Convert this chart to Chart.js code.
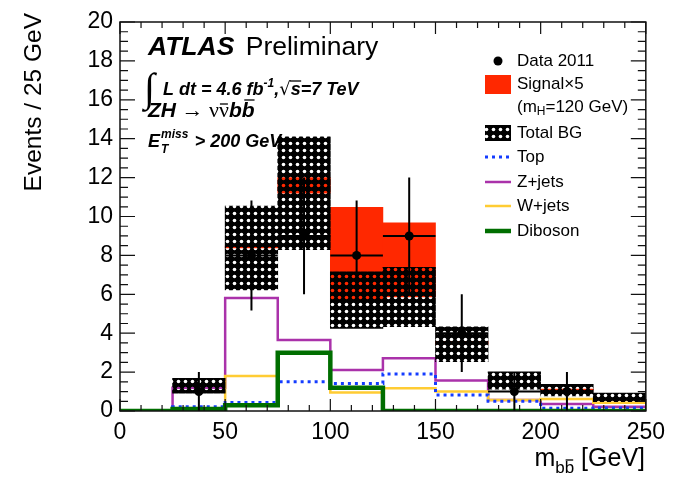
<!DOCTYPE html>
<html>
<head>
<meta charset="utf-8">
<script src="https://cdn.jsdelivr.net/npm/chart.js@4.4.0/dist/chart.umd.min.js"></script>
<style>
  html, body { margin: 0; padding: 0; background: #fff; }
  #mbb { display: block; }
</style>
</head>
<body>
<canvas id="mbb" width="673" height="489"></canvas>
<script>
// m_bb distribution, 25 GeV bins from 0 to 250 GeV
const binEdges = [0, 25, 50, 75, 100, 125, 150, 175, 200, 225, 250];
const dataCounts = [0, 1, 8, 9, 8, 9, 4, 1, 1, 0];
const totalBG = [0, 1.3, 8.38, 11.2, 5.7, 5.86, 3.43, 1.57, 1.07, 0.7];
const totalBGErr = [0, 0.38, 2.16, 2.9, 1.45, 1.53, 0.9, 0.45, 0.3, 0.22];
const signalX5 = [0, 0, 0.1, 0.8, 4.77, 3.82, 0.15, 0, 0.06, 0];
const zJets = [0, 1.2, 5.81, 3.65, 2.11, 2.71, 1.57, 0.57, 0.36, 0.22];
const wJets = [0, 0.05, 1.8, 3.0, 0.95, 1.17, 1.0, 0.57, 0.62, 0.43];
const topBG = [0, 0.22, 0.44, 1.51, 1.42, 1.9, 0.82, 0.5, 0.14, 0.16];
const diboson = [0, 0.1, 0.3, 3.0, 1.2, 0, 0, 0, 0, 0];
const xTickLabels = [0, 50, 100, 150, 200, 250];
const yTickLabels = [0, 2, 4, 6, 8, 10, 12, 14, 16, 18, 20];

const SANS = "'Liberation Sans', Arial, Helvetica, sans-serif";
const SERIF = "'Liberation Serif', 'DejaVu Serif', serif";

const binCenters = binEdges.slice(0, -1).map((e, i) => (e + binEdges[i + 1]) / 2);

// step outline: one point per left edge, plus the closing right edge
function stepPoints(values) {
  const pts = values.map((v, i) => ({ x: binEdges[i], y: v }));
  pts.push({ x: binEdges[binEdges.length - 1], y: values[values.length - 1] });
  return pts;
}

// black fill with transparent round holes, like the ROOT dotted fill style
function dotPattern(ctx) {
  const tile = document.createElement('canvas');
  tile.width = 7; tile.height = 7;
  const t = tile.getContext('2d');
  t.fillStyle = '#000';
  t.fillRect(0, 0, 7, 7);
  t.globalCompositeOperation = 'destination-out';
  t.beginPath();
  t.arc(3.5, 3.5, 1.8, 0, Math.PI * 2);
  t.fill();
  return ctx.createPattern(tile, 'repeat');
}

const canvas = document.getElementById('mbb');
const ctx = canvas.getContext('2d');
const hatch = dotPattern(ctx);
const signalRed = 'rgb(255,40,0)';

const colours = {
  z: 'rgb(170,50,170)',
  w: 'rgb(255,204,51)',
  top: 'rgb(20,60,255)',
  dib: 'rgb(0,110,0)'
};

// sqrt(N) error bars for the data, drawn just before the markers
const errorBars = {
  id: 'errorBars',
  beforeDatasetDraw(chart, args) {
    if (chart.data.datasets[args.index].label !== 'Data 2011') return;
    const c = chart.ctx, x = chart.scales.x, y = chart.scales.y;
    c.save();
    c.strokeStyle = '#000';
    c.lineWidth = 2;
    dataCounts.forEach((n, i) => {
      if (n <= 0) return;
      const err = Math.sqrt(n);
      const px = x.getPixelForValue(binCenters[i]);
      const py = y.getPixelForValue(n);
      c.beginPath();
      c.moveTo(px, y.getPixelForValue(Math.max(n - err, 0)));
      c.lineTo(px, y.getPixelForValue(n + err));
      c.moveTo(x.getPixelForValue(binEdges[i]), py);
      c.lineTo(x.getPixelForValue(binEdges[i + 1]), py);
      c.stroke();
    });
    c.restore();
  }
};

// draw a list of text pieces one after the other
function runs(c, x, y, parts) {
  parts.forEach(p => {
    c.font = p.font;
    const w = c.measureText(p.t).width;
    if (p.draw !== false) c.fillText(p.t, x + (p.dx || 0), y + (p.dy || 0));
    if (p.bar) {
      c.save();
      c.lineWidth = 1.3;
      c.beginPath();
      c.moveTo(x + (p.dx || 0) + p.bar[0] * w, y + (p.dy || 0) + p.bar[2]);
      c.lineTo(x + (p.dx || 0) + p.bar[1] * w, y + (p.dy || 0) + p.bar[2]);
      c.stroke();
      c.restore();
    }
    if (!p.stay) x += w + (p.dx || 0);
  });
  return x;
}

function runsWidth(c, parts) {
  let w = 0;
  parts.forEach(p => { c.font = p.font; if (!p.stay) w += c.measureText(p.t).width + (p.dx || 0); });
  return w;
}

// frame, tick marks, axis titles, labels and legend
const decorations = {
  id: 'decorations',
  afterDraw(chart) {
    const c = chart.ctx, x = chart.scales.x, y = chart.scales.y;
    const a = chart.chartArea;
    c.save();

    // frame
    c.strokeStyle = '#111';
    c.lineWidth = 1.5;
    c.strokeRect(a.left, a.top, a.right - a.left, a.bottom - a.top);

    // x ticks on bottom and top
    c.lineWidth = 1.2;
    c.beginPath();
    for (let v = 0; v <= 250; v += 10) {
      const px = x.getPixelForValue(v);
      const len = v % 50 === 0 ? 12 : 6;
      c.moveTo(px, a.bottom); c.lineTo(px, a.bottom - len);
      c.moveTo(px, a.top); c.lineTo(px, a.top + len);
    }
    // y ticks on left and right
    for (let v = 0; v <= 20; v += 0.5) {
      const py = y.getPixelForValue(v);
      const len = v % 2 === 0 ? 15 : 8;
      c.moveTo(a.left, py); c.lineTo(a.left + len, py);
      c.moveTo(a.right, py); c.lineTo(a.right - len, py);
    }
    c.stroke();

    c.fillStyle = '#000';
    c.strokeStyle = '#000';
    c.textBaseline = 'alphabetic';
    c.textAlign = 'left';

    // y axis title, aligned to the top end of the axis
    c.save();
    c.translate(41, 13);
    c.rotate(-Math.PI / 2);
    c.textAlign = 'right';
    c.font = '24.5px ' + SANS;
    c.fillText('Events / 25 GeV', 0, 0);
    c.restore();

    // x axis title, aligned to the right end of the axis
    const xt = [
      { t: 'm', font: '25px ' + SANS },
      { t: 'b', font: '17px ' + SANS, dy: 7 },
      { t: 'b', font: '17px ' + SANS, dy: 7, bar: [0.1, 0.9, -13] },
      { t: ' [GeV]', font: '25px ' + SANS }
    ];
    runs(c, 645 - runsWidth(c, xt), 466, xt);

    // experiment label
    const bi = sz => 'italic bold ' + sz + 'px ' + SANS;
    runs(c, 148, 55, [
      { t: 'ATLAS', font: bi(26.5) },
      { t: ' Preliminary', font: '26.5px ' + SANS, dx: 4 }
    ]);
    c.font = '40px ' + SERIF;
    c.fillText('\u222B', 144, 101);
    runs(c, 163, 95, [
      { t: 'L dt = 4.6 fb', font: bi(18) },
      { t: '-1', font: bi(12), dy: -8 },
      { t: ',', font: bi(18) },
      { t: '\u221A', font: '18px ' + 'DejaVu Sans' },
      { t: 's', font: bi(18), bar: [-0.1, 1.05, -14] },
      { t: '=7 TeV', font: bi(18) }
    ]);
    runs(c, 148, 117, [
      { t: 'ZH', font: bi(21) },
      { t: ' \u2192 ', font: '22px ' + SERIF },
      { t: '\u03BD', font: '22px ' + SERIF },
      { t: '\u03BD', font: '22px ' + SERIF, bar: [0.1, 0.9, -13] },
      { t: 'b', font: bi(21) },
      { t: 'b', font: bi(21), bar: [0.2, 1.0, -17] }
    ]);
    runs(c, 148, 147, [
      { t: 'E', font: bi(18) },
      { t: 'miss', font: bi(12), dy: -9, dx: 1, stay: true },
      { t: 'T', font: bi(12), dy: 6, dx: 1 },
      { t: 'miss', font: bi(12), draw: false, dx: -6 },
      { t: ' > 200 GeV', font: bi(18) }
    ]);

    // legend
    const lx = 485, lw = 26, tx = 517;
    const rows = { data: 61, sig: 84, mh: 107, bg: 133, top: 157, z: 182, w: 206, dib: 231 };
    c.beginPath();
    c.arc(lx + lw / 2, rows.data, 4.5, 0, Math.PI * 2);
    c.fill();
    c.fillStyle = signalRed;
    c.fillRect(lx, rows.sig - 9, lw, 19);
    c.fillStyle = hatch;
    c.fillRect(lx, rows.bg - 8, lw, 16);
    const legLine = (row, col, w, dash) => {
      c.save();
      c.strokeStyle = col; c.lineWidth = w; c.setLineDash(dash || []);
      c.beginPath(); c.moveTo(lx, row); c.lineTo(lx + lw, row); c.stroke();
      c.restore();
    };
    legLine(rows.top, colours.top, 3, [3, 4]);
    legLine(rows.z, colours.z, 2.5);
    legLine(rows.w, colours.w, 2.5);
    legLine(rows.dib, colours.dib, 4.5);

    c.fillStyle = '#000';
    c.textBaseline = 'middle';
    const lf = '17px ' + SANS;
    c.font = lf;
    c.fillText('Data 2011', tx, rows.data);
    c.fillText('Signal\u00D75', tx, rows.sig);
    runs(c, tx, rows.mh, [
      { t: '(m', font: lf },
      { t: 'H', font: '12px ' + SANS, dy: 5 },
      { t: '=120 GeV)', font: lf }
    ]);
    c.font = lf;
    c.fillText('Total BG', tx, rows.bg);
    c.fillText('Top', tx, rows.top);
    c.fillText('Z+jets', tx, rows.z);
    c.fillText('W+jets', tx, rows.w);
    c.fillText('Diboson', tx, rows.dib);

    c.restore();
  }
};

const stepLine = (label, values, colour, width, order, dash) => ({
  type: 'line',
  label: label,
  data: stepPoints(values),
  stepped: true,
  borderColor: colour,
  borderWidth: width,
  borderDash: dash || [],
  borderCapStyle: 'butt',
  pointRadius: 0,
  fill: false,
  order: order
});

new Chart(ctx, {
  type: 'line',
  data: {
    datasets: [
      {
        type: 'bar',
        label: 'Signal x5',
        data: binCenters.map((c, i) => ({ x: c, y: signalX5[i] > 0 ? [totalBG[i], totalBG[i] + signalX5[i]] : null })),
        backgroundColor: signalRed,
        borderWidth: 0,
        grouped: false,
        barPercentage: 1,
        categoryPercentage: 1,
        order: 10
      },
      stepLine('Z+jets', zJets, colours.z, 2.5, 9),
      stepLine('W+jets', wJets, colours.w, 2.5, 8),
      stepLine('Top', topBG, colours.top, 3, 7, [3, 4]),
      stepLine('Diboson', diboson, colours.dib, 4.5, 6),
      {
        type: 'line',
        label: 'Data 2011',
        data: binCenters.map((c, i) => ({ x: c, y: dataCounts[i] > 0 ? dataCounts[i] : null })),
        showLine: false,
        pointRadius: 4.5,
        pointBackgroundColor: '#000',
        pointBorderWidth: 0,
        order: 2
      },
      {
        type: 'bar',
        label: 'Total BG',
        data: binCenters.map((c, i) => ({ x: c, y: totalBG[i] > 0 ? [totalBG[i] - totalBGErr[i], totalBG[i] + totalBGErr[i]] : null })),
        backgroundColor: hatch,
        borderWidth: 0,
        grouped: false,
        barPercentage: 1,
        categoryPercentage: 1,
        order: 1
      }
    ]
  },
  options: {
    responsive: false,
    animation: false,
    devicePixelRatio: 1,
    layout: { padding: { top: 22, right: 27, left: 0, bottom: 0 } },
    plugins: { legend: { display: false }, tooltip: { enabled: false } },
    scales: {
      x: {
        type: 'linear',
        min: 0,
        max: 250,
        offset: false,
        grid: { display: false, drawTicks: false },
        border: { display: false },
        afterBuildTicks: s => { s.ticks = xTickLabels.map(v => ({ value: v })); },
        afterFit: s => { s.height = 78; },
        ticks: {
          autoSkip: false,
          maxRotation: 0,
          padding: 8,
          color: '#000',
          font: { family: SANS, size: 23 }
        }
      },
      y: {
        type: 'linear',
        min: 0,
        max: 20,
        grid: { display: false, drawTicks: false },
        border: { display: false },
        afterBuildTicks: s => { s.ticks = yTickLabels.map(v => ({ value: v })); },
        afterFit: s => { s.width = 120; },
        ticks: {
          padding: 7,
          color: '#000',
          font: { family: SANS, size: 23 }
        }
      }
    }
  },
  plugins: [errorBars, decorations]
});
</script>
</body>
</html>
